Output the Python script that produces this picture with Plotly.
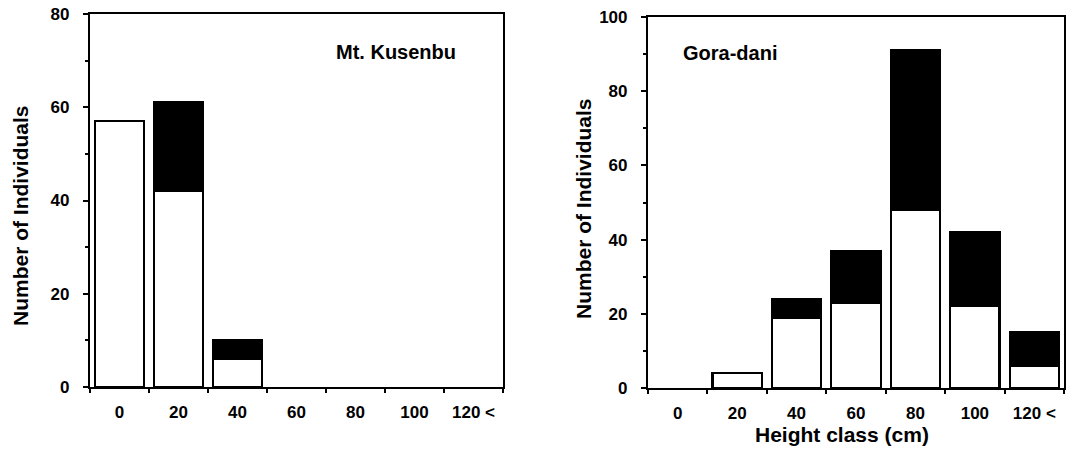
import plotly.graph_objects as go

categories = ["0", "20", "40", "60", "80", "100", "120 <"]

kusenbu_white = [57, 42, 6, None, None, None, None]
kusenbu_black = [None, 19, 4, None, None, None, None]

gora_white = [None, 4, 19, 23, 48, 22, 6]
gora_black = [None, None, 5, 14, 43, 20, 9]

y_title = "Number of Individuals"
x_title = "Height class (cm)"
label_left = "Mt. Kusenbu"
label_right = "Gora-dani"

FONT = "Liberation Sans, Arial, Helvetica, sans-serif"

fig = go.Figure()

def add_bars(white, black, xa, ya):
    fig.add_trace(go.Bar(x=categories, y=white, xaxis=xa, yaxis=ya,
                         marker=dict(color="white", line=dict(color="black", width=2.2)),
                         showlegend=False))
    fig.add_trace(go.Bar(x=categories, y=black, xaxis=xa, yaxis=ya,
                         marker=dict(color="black", line=dict(color="black", width=2.2)),
                         showlegend=False))

add_bars(kusenbu_white, kusenbu_black, "x", "y")
add_bars(gora_white, gora_black, "x2", "y2")

tickfont = dict(family=FONT, size=17, color="black", weight="bold")

xcommon = dict(type="category", showline=True, linewidth=2.2, linecolor="black",
               mirror=True, ticks="outside", ticklen=4, tickwidth=1.5, tickcolor="black",
               tickson="boundaries", tickfont=tickfont, showgrid=False, zeroline=False,
               ticklabelstandoff=8, automargin=False)
ycommon = dict(showline=True, linewidth=2.2, linecolor="black", mirror=True,
               ticks="outside", ticklen=5, tickwidth=1.8, tickcolor="black",
               tickfont=tickfont, showgrid=False, zeroline=False, dtick=20,
               ticklabelstandoff=10, automargin=False,
               minor=dict(dtick=10, ticks="outside", ticklen=3, tickwidth=1.5, tickcolor="black"))

fig.update_layout(
    width=1067, height=461,
    margin=dict(l=0, r=0, t=0, b=0),
    paper_bgcolor="white", plot_bgcolor="white",
    barmode="stack", bargap=0.17,
    xaxis=dict(domain=[90/1067, 503/1067], anchor="y", **xcommon),
    yaxis=dict(domain=[1-387/461, 1-14/461], anchor="x", range=[0, 80], **ycommon),
    xaxis2=dict(domain=[648/1067, 1064/1067], anchor="y2", **xcommon),
    yaxis2=dict(domain=[1-388/461, 1-17/461], anchor="x2", range=[0, 100], **ycommon),
)

annfont = dict(family=FONT, size=20, color="black", weight="bold")
titlefont = dict(family=FONT, size=21, color="black", weight="bold")
fig.add_annotation(text=label_left, x=396/1067, y=1-52/461, xref="paper", yref="paper",
                   showarrow=False, font=annfont, xanchor="center", yanchor="middle")
fig.add_annotation(text=label_right, x=730/1067, y=1-53/461, xref="paper", yref="paper",
                   showarrow=False, font=annfont, xanchor="center", yanchor="middle")
fig.add_annotation(text=y_title, x=20/1067, y=1-216/461, xref="paper", yref="paper",
                   showarrow=False, font=titlefont, textangle=-90, xanchor="center", yanchor="middle")
fig.add_annotation(text=y_title, x=584/1067, y=1-209/461, xref="paper", yref="paper",
                   showarrow=False, font=titlefont, textangle=-90, xanchor="center", yanchor="middle")
fig.add_annotation(text=x_title, x=842/1067, y=1-434/461, xref="paper", yref="paper",
                   showarrow=False, font=titlefont, xanchor="center", yanchor="middle")

fig.write_html("out.html", config={"displayModeBar": False},
               post_script="document.body.style.margin='0';document.body.style.overflow='hidden';")
